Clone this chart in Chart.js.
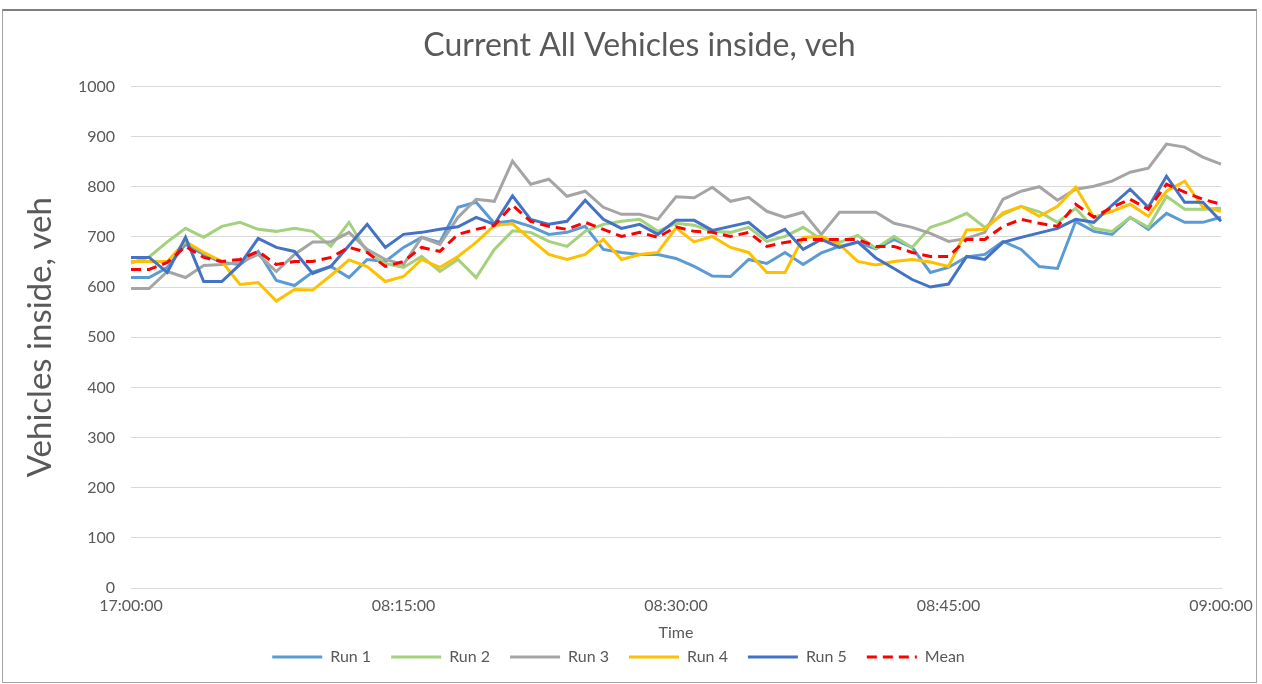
<!DOCTYPE html>
<html>
<head>
<meta charset="utf-8">
<title>Current All Vehicles inside, veh</title>
<script src="https://cdn.jsdelivr.net/npm/chart.js@4.4.1/dist/chart.umd.min.js"></script>
<style>
  html, body { margin: 0; padding: 0; background: #fff; }
  .frame {
    position: absolute; left: 2px; top: 9px; width: 1253px; height: 671px;
    border: 1px solid #a6a6a6; border-top: 2px solid #7f7f7f;
  }
  #chart { position: absolute; left: 0; top: 0; }
</style>
</head>
<body>
<div class="frame"></div>
<canvas id="chart" width="1262" height="684"></canvas>
<script>
// one sample per minute, the first label is what the sheet shows
const times = [
  "17:00:00", "08:01:00", "08:02:00", "08:03:00", "08:04:00", "08:05:00", "08:06:00", "08:07:00",
  "08:08:00", "08:09:00", "08:10:00", "08:11:00", "08:12:00", "08:13:00", "08:14:00", "08:15:00",
  "08:16:00", "08:17:00", "08:18:00", "08:19:00", "08:20:00", "08:21:00", "08:22:00", "08:23:00",
  "08:24:00", "08:25:00", "08:26:00", "08:27:00", "08:28:00", "08:29:00", "08:30:00", "08:31:00",
  "08:32:00", "08:33:00", "08:34:00", "08:35:00", "08:36:00", "08:37:00", "08:38:00", "08:39:00",
  "08:40:00", "08:41:00", "08:42:00", "08:43:00", "08:44:00", "08:45:00", "08:46:00", "08:47:00",
  "08:48:00", "08:49:00", "08:50:00", "08:51:00", "08:52:00", "08:53:00", "08:54:00", "08:55:00",
  "08:56:00", "08:57:00", "08:58:00", "08:59:00", "09:00:00"
];

const run1 = [619, 619, 639, 685, 665, 649, 645, 671, 613, 603, 630, 641, 619, 655, 651, 679,
  699, 689, 759, 769, 727, 732, 721, 705, 709, 721, 675, 669, 665, 665, 657, 641,
  622, 621, 655, 647, 669, 645, 668, 681, 689, 676, 695, 679, 629, 639, 660, 665,
  691, 675, 641, 637, 731, 711, 705, 739, 715, 747, 729, 729, 739];
const run2 = [648, 660, 690, 717, 699, 721, 729, 715, 711, 717, 711, 681, 729, 669, 647, 639,
  661, 631, 655, 619, 675, 712, 709, 691, 681, 711, 725, 731, 735, 711, 727, 723,
  711, 709, 719, 691, 701, 719, 695, 689, 703, 677, 701, 679, 719, 731, 747, 719,
  745, 761, 750, 729, 757, 717, 711, 739, 719, 781, 755, 755, 757];
const run3 = [597, 597, 631, 619, 643, 645, 649, 665, 631, 665, 690, 690, 709, 675, 655, 645,
  699, 685, 739, 775, 771, 851, 805, 815, 781, 791, 759, 745, 745, 735, 780, 778,
  799, 771, 779, 751, 739, 749, 705, 749, 749, 749, 727, 719, 707, 691, 697, 709,
  775, 791, 800, 773, 795, 801, 811, 829, 837, 885, 879, 859, 845];
const run4 = [651, 651, 651, 691, 669, 651, 605, 609, 572, 595, 594, 623, 654, 641, 611, 621,
  655, 639, 661, 689, 723, 726, 695, 665, 655, 665, 695, 655, 665, 669, 718, 690,
  701, 679, 669, 629, 629, 699, 701, 685, 651, 644, 651, 655, 650, 641, 714, 715,
  748, 761, 741, 761, 799, 739, 751, 765, 741, 791, 811, 759, 751];
const run5 = [659, 659, 629, 699, 611, 611, 645, 697, 679, 671, 627, 641, 683, 725, 679, 705,
  709, 715, 720, 739, 725, 782, 735, 725, 731, 773, 735, 717, 725, 705, 733, 733,
  713, 721, 729, 699, 715, 675, 695, 679, 690, 658, 637, 615, 600, 606, 661, 655,
  689, 699, 708, 717, 735, 729, 763, 795, 759, 821, 769, 769, 731];
const mean = [635, 635, 649, 681, 659, 651, 655, 671, 645, 651, 651, 659, 679, 669, 641, 651,
  679, 671, 705, 715, 723, 763, 731, 721, 715, 729, 715, 701, 709, 699, 720, 711,
  709, 701, 709, 681, 689, 695, 695, 695, 695, 681, 681, 669, 661, 661, 695, 695,
  721, 735, 727, 721, 765, 739, 759, 775, 755, 805, 789, 775, 765];

const yTicks = [0, 100, 200, 300, 400, 500, 600, 700, 800, 900, 1000];
const shownTimes = ["17:00:00", "08:15:00", "08:30:00", "08:45:00", "09:00:00"];

const FONT = "Lato, 'Open Sans', sans-serif";
const GREY_TEXT = "#595959";

function line(label, data, color, order, dash) {
  return {
    label: label,
    data: data,
    borderColor: color,
    backgroundColor: color,
    borderWidth: 3,
    borderDash: dash || [],
    pointRadius: 0,
    pointHoverRadius: 0,
    tension: 0,
    fill: false,
    order: order
  };
}

// excel centres title and legend on the whole frame, not on the plot
const nudgeBlocks = {
  id: "nudgeBlocks",
  afterLayout(c) {
    if (c.titleBlock) { c.titleBlock.left += 29; c.titleBlock.right += 29; }
    if (c.legend) { c.legend.left += 8; c.legend.right += 8; }
  }
};

const chart = new Chart(document.getElementById("chart"), {
  type: "line",
  data: {
    labels: times,
    datasets: [
      line("Run 1", run1, "#5b9bd5", 5),
      line("Run 2", run2, "#a3d17c", 4),
      line("Run 3", run3, "#a5a5a5", 3),
      line("Run 4", run4, "#ffc000", 2),
      line("Run 5", run5, "#4472c4", 1),
      line("Mean", mean, "#ff0000", 0, [10, 6])
    ]
  },
  plugins: [nudgeBlocks],
  options: {
    responsive: false,
    animation: false,
    layout: { padding: { top: 10, right: 41, bottom: 9, left: 0 } },
    plugins: {
      tooltip: { enabled: false },
      title: {
        display: true,
        text: "Current All Vehicles inside, veh",
        color: GREY_TEXT,
        font: { family: FONT, size: 32, weight: "normal" },
        padding: { top: 16, bottom: 22 }
      },
      legend: {
        position: "bottom",
        labels: {
          usePointStyle: true,
          pointStyle: "line",
          pointStyleWidth: 50,
          padding: 20,
          color: GREY_TEXT,
          font: { family: FONT, size: 16 },
          sort: (a, b) => a.datasetIndex - b.datasetIndex,
          generateLabels: function (c) {
            // point style labels take the point's style, so put the line's dash back
            const items = Chart.defaults.plugins.legend.labels.generateLabels(c);
            items.forEach(it => {
              const ds = c.data.datasets[it.datasetIndex];
              it.lineDash = ds.borderDash;
              it.lineWidth = ds.borderWidth;
              it.strokeStyle = ds.borderColor;
            });
            return items;
          }
        }
      }
    },
    scales: {
      x: {
        grid: { display: false, drawTicks: false },
        border: { display: true, color: "#d9d9d9", width: 1 },
        ticks: {
          autoSkip: false,
          maxRotation: 0,
          padding: 8,
          color: GREY_TEXT,
          font: { family: FONT, size: 16 },
          callback: function (value, index) {
            const lbl = times[index];
            return shownTimes.includes(lbl) && index % 15 === 0 ? lbl : null;
          }
        },
        title: {
          display: true,
          text: "Time",
          color: GREY_TEXT,
          font: { family: FONT, size: 16 },
          padding: { top: 0, bottom: -13 }
        },
        afterFit: function (scale) { scale.height = 41; }
      },
      y: {
        min: 0,
        max: 1000,
        afterBuildTicks: function (scale) {
          scale.ticks = yTicks.map(v => ({ value: v }));
        },
        grid: { color: "#d9d9d9", drawTicks: false },
        border: { display: false },
        ticks: {
          padding: 16,
          color: GREY_TEXT,
          font: { family: FONT, size: 16 },
          callback: v => String(v)
        },
        title: {
          display: true,
          text: "Vehicles inside, veh",
          color: GREY_TEXT,
          font: { family: FONT, size: 33 },
          padding: { top: 21, bottom: 0 }
        },
        afterFit: function (scale) { scale.width = 131; }
      }
    }
  }
});
</script>
</body>
</html>
